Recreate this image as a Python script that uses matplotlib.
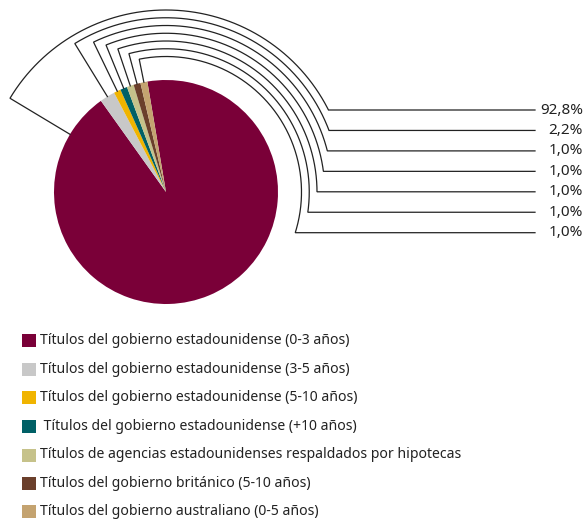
import numpy as np
import matplotlib
matplotlib.use("Agg")
import matplotlib.pyplot as plt
from matplotlib.patches import Rectangle

# ----
# data
# ----
labels = [
    "Títulos del gobierno estadounidense (0-3 años)",
    "Títulos del gobierno estadounidense (3-5 años)",
    "Títulos del gobierno estadounidense (5-10 años)",
    " Títulos del gobierno estadounidense (+10 años)",
    "Títulos de agencias estadounidenses respaldados por hipotecas",
    "Títulos del gobierno británico (5-10 años)",
    "Títulos del gobierno australiano (0-5 años)",
]
values = [92.8, 2.2, 1.0, 1.0, 1.0, 1.0, 1.0]
value_labels = ["92,8%", "2,2%", "1,0%", "1,0%", "1,0%", "1,0%", "1,0%"]
colors = ["#7a0038", "#c8c8c8", "#f0b400", "#006066", "#c6c28a", "#6b3f2b", "#c4a370"]

plt.rcParams["font.family"] = ["Noto Sans", "DejaVu Sans"]

W, H = 585, 520
fig = plt.figure(figsize=(W / 100, H / 100), dpi=100)
ax = fig.add_axes([0, 0, 1, 1])

# pie geometry, in pixel units (y up)
cx, cy = 166, H - 192
R = 112
start = 99.6

wedges, _ = ax.pie(values, colors=colors, startangle=start, counterclock=False,
                   center=(cx, cy), radius=R,
                   wedgeprops=dict(linewidth=0, antialiased=True))

# leader lines: radial segment, arc over the top, then horizontal to the label
fracs = np.array(values) / sum(values)
ends = start - 360 * np.cumsum(fracs)
begins = ends + 360 * fracs
mids = ((begins + ends) / 2) % 360
mids[0] = 149.0  # the big slice's leader leaves from the upper left

arc_r = np.linspace(182, 135.5, len(values))
line_y = H - np.linspace(110, 232.7, len(values))
x_end = 535

for a, r, y in zip(mids, arc_r, line_y):
    t_end = np.degrees(np.arcsin((y - cy) / r))
    ts = np.radians(np.linspace(a, t_end, 200))
    xs = [cx + R * np.cos(np.radians(a))] + list(cx + r * np.cos(ts)) + [x_end]
    ys = [cy + R * np.sin(np.radians(a))] + list(cy + r * np.sin(ts)) + [y]
    ax.plot(xs, ys, color="#222222", lw=0.9, solid_joinstyle="miter")

for lab, y in zip(value_labels, line_y):
    ax.text(583, y, lab, ha="right", va="center", fontsize=11, color="#222222")

# legend
leg_y = H - np.array([340.7, 369.3, 397.7, 426, 455, 483.3, 511.7])
for c, lab, y in zip(colors, labels, leg_y):
    ax.add_patch(Rectangle((22, y - 6.5), 14, 13, facecolor=c, edgecolor="none"))
    ax.text(40, y, lab, ha="left", va="center", fontsize=10.1, color="#222222")

ax.set_xlim(0, W)
ax.set_ylim(0, H)
ax.set_aspect("equal")
ax.axis("off")

fig.savefig("out.png", dpi=100)
